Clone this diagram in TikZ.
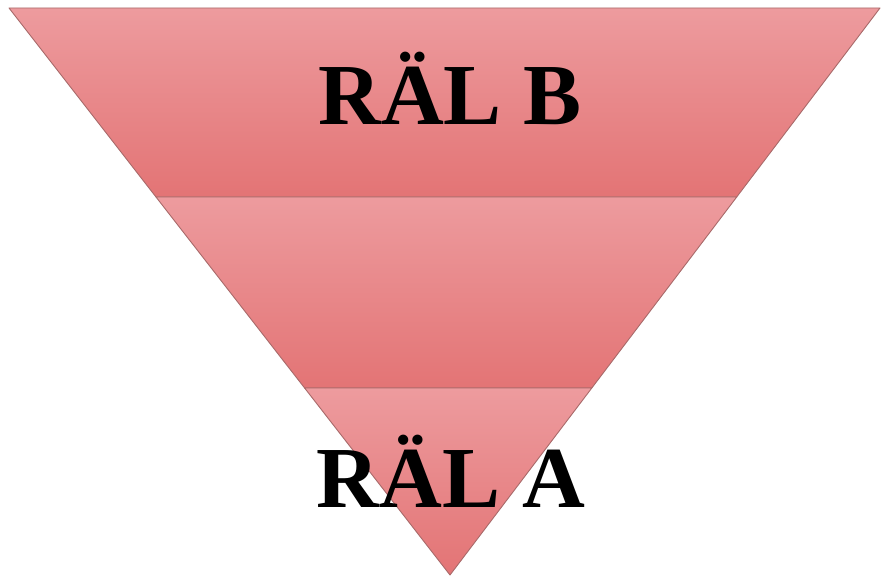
\documentclass[tikz,border=0pt]{standalone}
\usepackage{fontspec}
\setmainfont{Liberation Serif}
\definecolor{bandtop}{HTML}{ED9B9E}
\definecolor{bandbot}{HTML}{E37475}
\definecolor{edge}{HTML}{A86A6A}
\tikzset{
  band/.style={top color=bandtop, bottom color=bandbot, draw=edge, line width=0.9pt, line join=round},
  label/.style={anchor=base, inner sep=0pt, font=\fontsize{87}{87}\selectfont\bfseries}
}
\begin{document}
\begin{tikzpicture}[x=1pt,y=-1pt]
\useasboundingbox (0,0) rectangle (883,577);
\coordinate (tl) at (9,8);
\coordinate (tr) at (880,8);
\coordinate (l1) at (156,197);
\coordinate (r1) at (736.7,197);
\coordinate (l2) at (304.6,388);
\coordinate (r2) at (591.8,388);
\coordinate (ap) at (450,575);
\shade[band] (tl) -- (tr) -- (r1) -- (l1) -- cycle;
\shade[band] (l1) -- (r1) -- (r2) -- (l2) -- cycle;
\shade[band] (l2) -- (r2) -- (ap) -- cycle;
\node[label] (b) at (450,125) {RÄL B};
\node[label] (a) at (451,507) {RÄL A};
\end{tikzpicture}
\end{document}
